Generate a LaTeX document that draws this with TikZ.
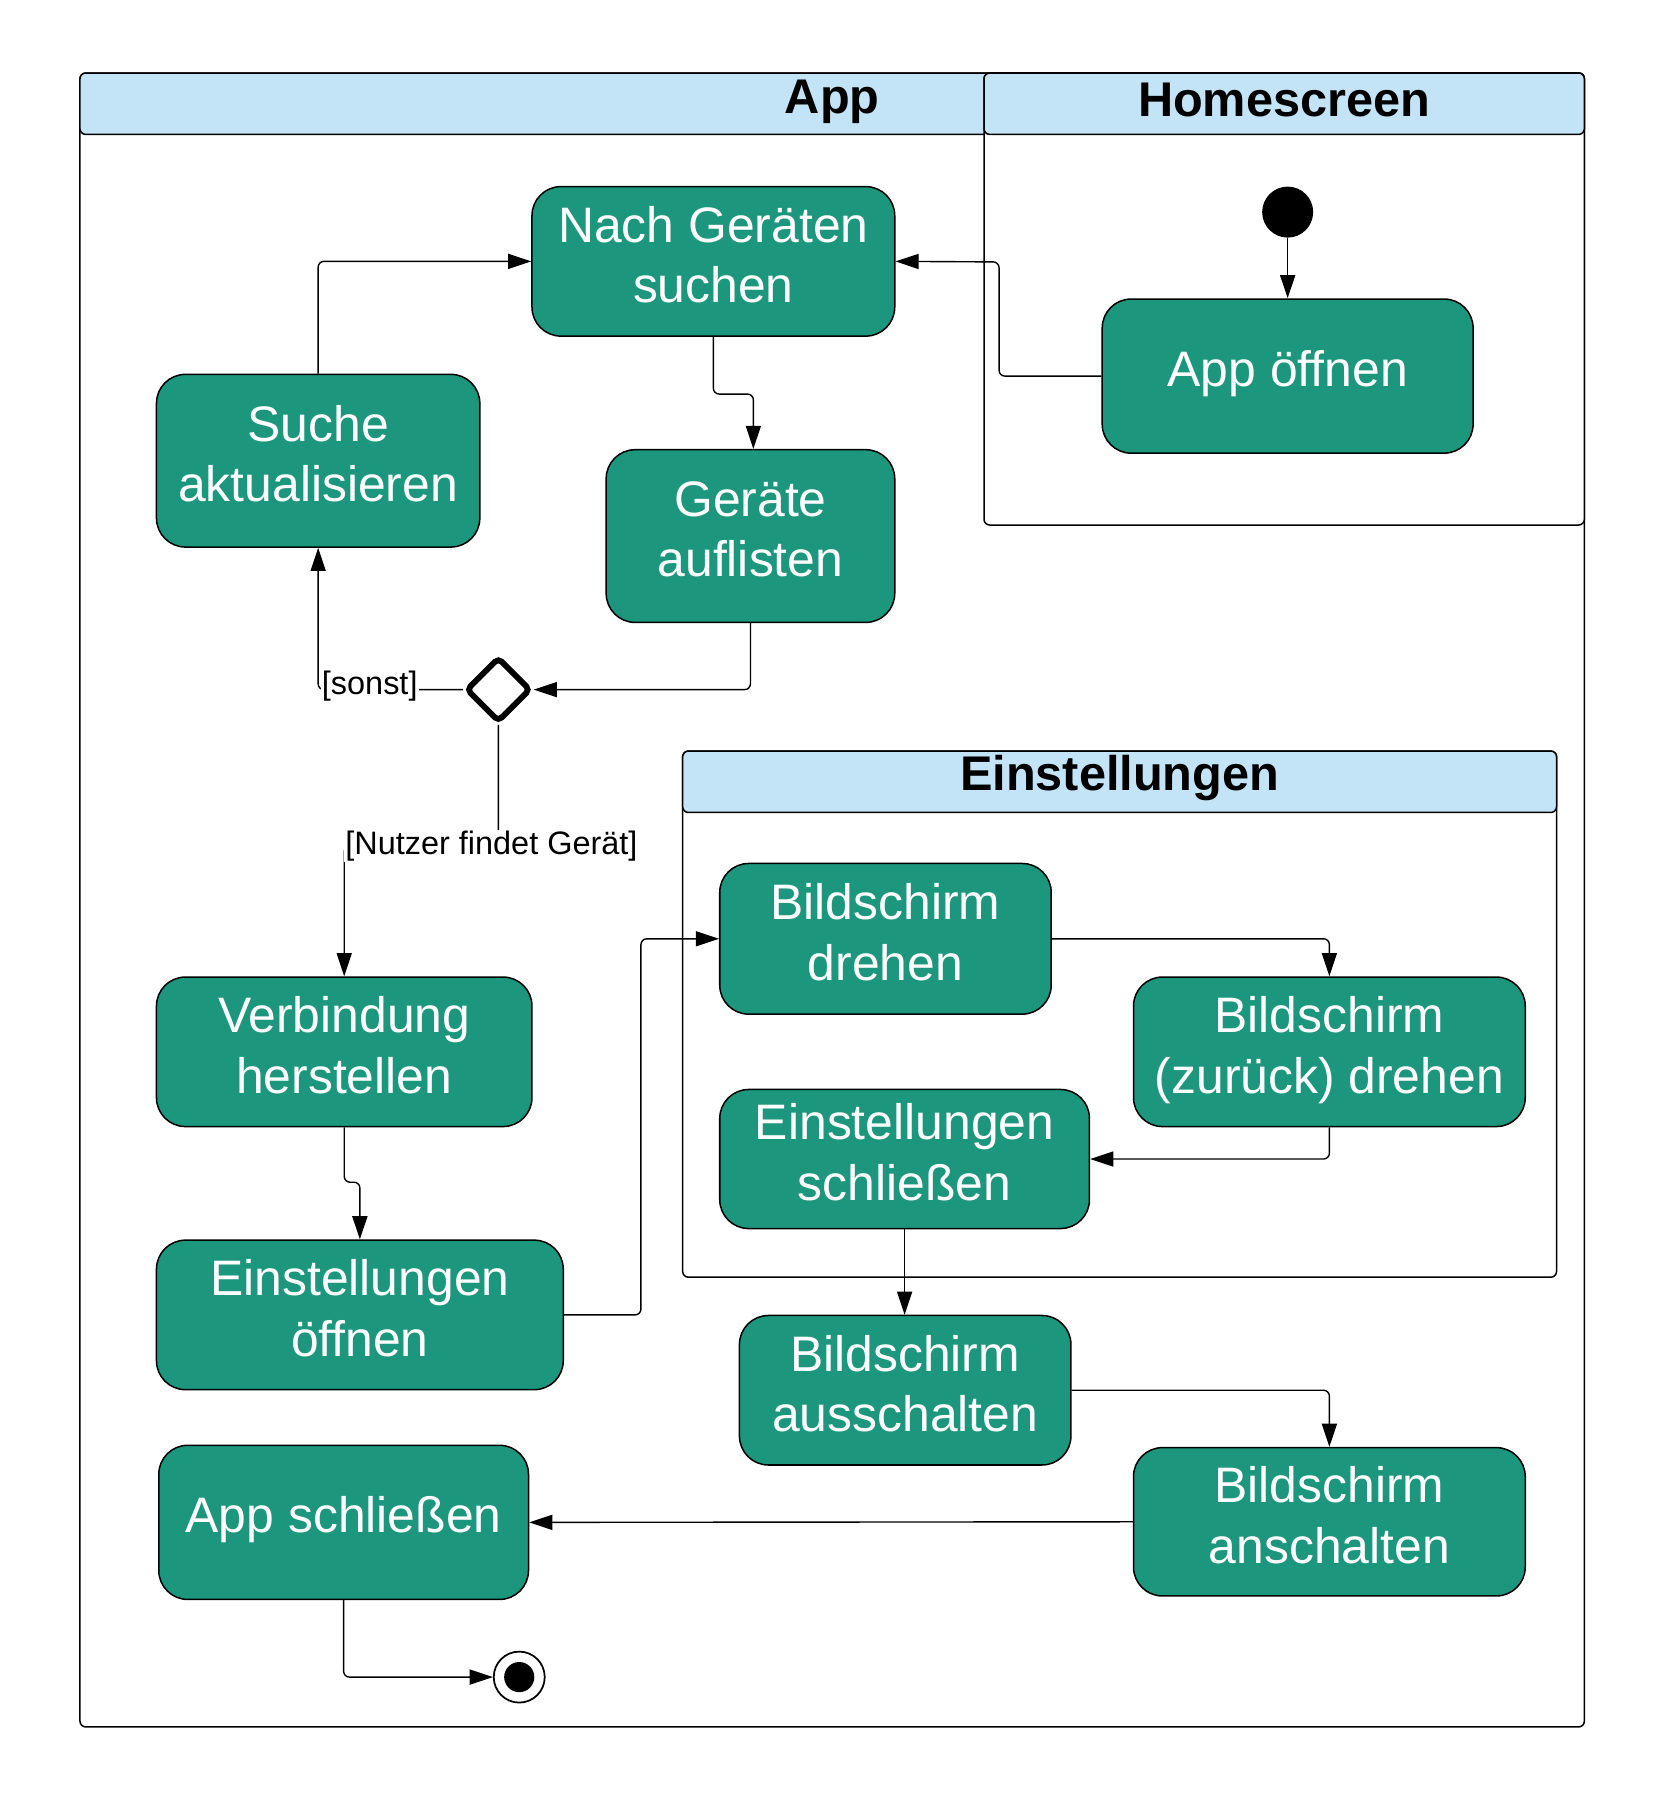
\documentclass[tikz,border=0pt]{standalone}
\usepackage{fontspec}
\setmainfont{Liberation Sans}
\usetikzlibrary{shapes.geometric,arrows.meta}
\definecolor{teal1}{RGB}{28,151,125}
\definecolor{hdr}{RGB}{194,228,246}
\begin{document}
\begin{tikzpicture}[x=1pt,y=-1pt,
 box/.style={draw=black, line width=1.3pt, fill=teal1, rounded corners=25pt, text=white, align=center, inner sep=0pt, text depth=12pt, font=\fontsize{43}{52}\selectfont},
 onebox/.style={box, text depth=13pt},
 arr/.style={draw, line width=1.2pt, rounded corners=5pt, -{Triangle[length=20pt,width=13pt]}},
 frame/.style={draw, line width=1.3pt, rounded corners=5pt},
 hdrtxt/.style={font=\fontsize{42}{50}\selectfont\bfseries, inner sep=0pt},
 lbl/.style={fill=white, inner sep=1pt, font=\fontsize{28}{33}\selectfont}]
\useasboundingbox (0,0) rectangle (1440,1566);
% frames
\draw[frame] (69,63) rectangle (1367,1490);
\draw[frame, fill=hdr] (69,63) rectangle (1367,116);
\node[hdrtxt] (tApp) at (718,88) {App};
\draw[frame, fill=white] (849,63) rectangle (1367,453);
\draw[frame, fill=hdr] (849,63) rectangle (1367,116);
\node[hdrtxt] (tHome) at (1108,86) {Homescreen};
\draw[frame] (589,648) rectangle (1343,1102);
\draw[frame, fill=hdr] (589,648) rectangle (1343,701);
\node[hdrtxt] (tEin) at (966,671) {Einstellungen};
% nodes
\node[circle, fill=black, minimum size=44pt, inner sep=0pt] (start) at (1111,183) {};
\node[box, minimum width=313pt, minimum height=129pt] (nach) at (615.5,225.5) {Nach Geräten\\suchen};
\node[onebox, minimum width=320pt, minimum height=133pt] (open) at (1111,324.5) {App öffnen};
\node[box, minimum width=279pt, minimum height=149pt] (suche) at (274.5,397.5) {Suche\\aktualisieren};
\node[box, minimum width=249pt, minimum height=149pt] (list) at (647.5,462.5) {Geräte\\auflisten};
\node[diamond, draw, line width=5pt, rounded corners=4pt, fill=white, minimum width=56pt, minimum height=56pt, inner sep=0pt] (dec) at (430,595) {};
\node[box, minimum width=324pt, minimum height=129pt] (verb) at (297,907.5) {Verbindung\\herstellen};
\node[box, minimum width=351pt, minimum height=129pt] (eopen) at (310.5,1134.5) {Einstellungen\\öffnen};
\node[onebox, minimum width=319pt, minimum height=133pt] (close) at (296.5,1313.5) {App schließen};
\node[box, minimum width=286pt, minimum height=130pt] (dreh) at (764,810) {Bildschirm\\drehen};
\node[box, minimum width=338pt, minimum height=129pt] (zur) at (1147,907.5) {Bildschirm\\(zurück) drehen};
\node[box, minimum width=319pt, minimum height=120pt] (eclose) at (780.5,1000) {Einstellungen\\schließen};
\node[box, minimum width=286pt, minimum height=129pt] (aus) at (781,1199.5) {Bildschirm\\ausschalten};
\node[box, minimum width=338pt, minimum height=128pt] (an) at (1147,1313) {Bildschirm\\anschalten};
\node[circle, draw, line width=1.5pt, fill=white, minimum size=44pt, inner sep=0pt] (end) at (448,1447) {};
\node[circle, fill=black, minimum size=26pt, inner sep=0pt] (endin) at (end.center) {};
% helper coordinates
\coordinate (c2) at (862,226);
\coordinate (c3) at (650,340);
\coordinate (c7) at (297,730);
\coordinate (c8) at (310.5,1020);
\coordinate (c9) at (553,810);
% connectors
\draw[arr] (start) -- (open);
\draw[arr] (open.west) -| (c2) -- (nach.east);
\draw[arr] (nach.south) |- (c3) -- (list.north -| c3);
\draw[arr] (list.south) |- (dec.east);
\draw[arr] (dec.west) -| (suche.south);
\draw[arr] (suche.north) |- (nach.west);
\draw[arr] (dec.south) |- (c7) -- (verb.north);
\draw[arr] (verb.south) |- (c8) -- (eopen.north);
\draw[arr] (eopen.east) -| (c9) -- (dreh.west);
\draw[arr] (dreh.east) -| (zur.north);
\draw[arr] (zur.south) |- (eclose.east);
\draw[arr] (eclose.south) -- (aus.north -| eclose.south);
\draw[arr] (aus.east) -| (an.north);
\draw[arr] (an.west) -- (close.east);
\draw[arr] (close.south) |- (end.west);
% labels
\node[lbl] (lsonst) at (319,592) {[sonst]};
\node[lbl] (lfind) at (424,730) {[Nutzer findet Gerät]};
\end{tikzpicture}
\end{document}
